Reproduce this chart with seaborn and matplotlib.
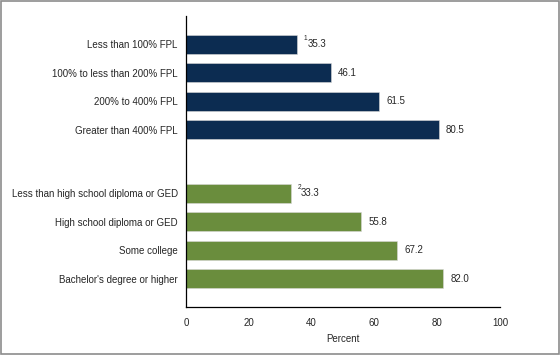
import matplotlib
matplotlib.use("Agg")
import matplotlib.pyplot as plt
import seaborn as sns
import pandas as pd
from matplotlib.patches import Rectangle

# data
income_labels = ["Less than 100% FPL", "100% to less than 200% FPL",
                 "200% to 400% FPL", "Greater than 400% FPL"]
income_values = [35.3, 46.1, 61.5, 80.5]
edu_labels = ["Less than high school diploma or GED", "High school diploma or GED",
              "Some college", "Bachelor's degree or higher"]
edu_values = [33.3, 55.8, 67.2, 82.0]
footnotes = {0: "1", 4: "2"}
x_ticks = [0, 20, 40, 60, 80, 100]

sns.set_style("white")
plt.rcParams['font.family'] = ['Liberation Sans', 'DejaVu Sans']

navy = "#002b5c"
green = "#6b9b2f"
fs = 7

labels = income_labels + edu_labels
values = income_values + edu_values
pos = [0, 1, 2, 3, 5.25, 6.25, 7.25, 8.25]
group = ["income"] * 4 + ["edu"] * 4
df = pd.DataFrame({"label": labels, "value": values, "pos": pos, "group": group})

fig = plt.figure(figsize=(5.6, 3.55), dpi=100)
ax = fig.add_axes([186 / 560, 48 / 355, 314 / 560, 291 / 355])

sns.barplot(data=df, x="value", y="pos", hue="group", orient="h", native_scale=True,
            palette={"income": navy, "edu": green}, width=0.66, legend=False,
            edgecolor="#d8d8d8", linewidth=0.4, ax=ax)

ax.set_xlim(0, 100)
ax.set_ylim(9.25, -1)
ax.set_yticks(pos)
ax.set_yticklabels(labels, fontsize=fs)
ax.set_xticks(x_ticks)
ax.set_xticklabels([str(t) for t in x_ticks], fontsize=fs)
ax.tick_params(axis="y", length=0, pad=6)
ax.tick_params(axis="x", direction="in", length=5, width=0.8, color="black", pad=8)
ax.set_xlabel("Percent", fontsize=fs, labelpad=4)
ax.set_ylabel("")

for s in ["top", "right"]:
    ax.spines[s].set_visible(False)
for s in ["left", "bottom"]:
    ax.spines[s].set_color("black")
    ax.spines[s].set_linewidth(0.9)

for i, (v, p) in enumerate(zip(values, pos)):
    if i in footnotes:
        ax.annotate(footnotes[i], (v, p), xytext=(5, 1.5), textcoords="offset points",
                    fontsize=4.8, va="bottom", ha="left")
        ax.annotate(f"{v:.1f}", (v, p), xytext=(7.6, 0), textcoords="offset points",
                    fontsize=fs, va="center", ha="left")
    else:
        ax.annotate(f"{v:.1f}", (v, p), xytext=(5.2, 0), textcoords="offset points",
                    fontsize=fs, va="center", ha="left")

fig.patches.append(Rectangle((0.001, 0.002), 0.997, 0.995, transform=fig.transFigure,
                             fill=False, edgecolor="#8c8c8c", linewidth=1.2))

fig.savefig("out.png", dpi=100)
